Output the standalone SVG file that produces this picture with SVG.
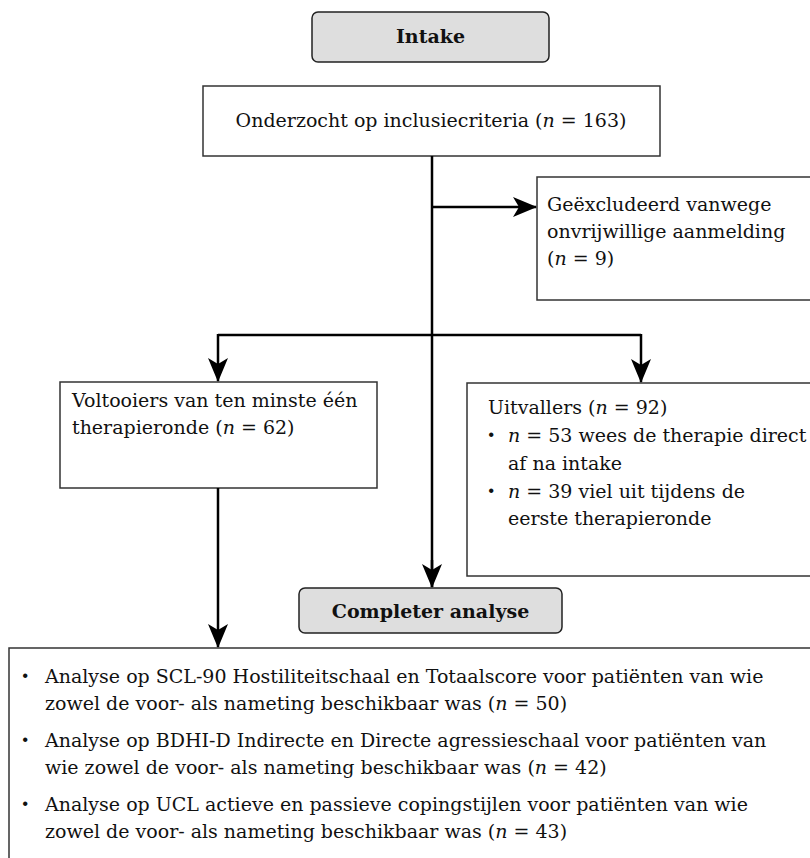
<svg xmlns="http://www.w3.org/2000/svg" width="810" height="858" viewBox="0 0 810 858">
<style>
text{font-family:"DejaVu Serif","Liberation Serif",serif;font-size:19px;fill:#111}
.b{font-weight:bold;font-size:19px}
.i{font-style:italic}
.d{font-weight:bold;font-size:24px}
.box{fill:#fff;stroke:#333;stroke-width:1.5}
.term{fill:#dedede;stroke:#222;stroke-width:1.5}
.c{fill:none;stroke:#000;stroke-width:2.5}
</style>
<defs>
<marker id="ah" markerUnits="userSpaceOnUse" markerWidth="30" markerHeight="24" viewBox="-25 -12 27 24" refX="0" refY="0" orient="auto">
<path d="M1,0 L-23,-10 L-17,0 L-23,10 Z" fill="#000"/>
</marker>
</defs>
<g id="intake">
<rect class="term" x="312" y="12" width="237" height="50" rx="6"/>
<text class="b" x="430.5" y="43" text-anchor="middle">Intake</text>
</g>
<g id="onderzocht">
<rect class="box" x="203" y="86" width="457" height="70"/>
<text x="431" y="127" text-anchor="middle">Onderzocht op inclusiecriteria (<tspan class="i">n</tspan> = 163)</text>
</g>
<g id="excluded">
<rect class="box" x="537" y="177" width="290" height="123"/>
<text x="547" y="211">Geëxcludeerd vanwege</text>
<text x="547" y="238">onvrijwillige aanmelding</text>
<text x="547" y="265">(<tspan class="i">n</tspan> = 9)</text>
</g>
<g id="voltooiers">
<rect class="box" x="60" y="382" width="317" height="106"/>
<text x="72" y="407">Voltooiers van ten minste één</text>
<text x="72" y="434">therapieronde (<tspan class="i">n</tspan> = 62)</text>
</g>
<g id="uitvallers">
<rect class="box" x="467" y="383" width="360" height="193"/>
<text x="488" y="414">Uitvallers (<tspan class="i">n</tspan> = 92)</text>
<text class="d" x="487" y="443">·</text>
<text x="508" y="442"><tspan class="i">n</tspan> = 53 wees de therapie direct</text>
<text x="508" y="470">af na intake</text>
<text class="d" x="487" y="499">·</text>
<text x="508" y="498"><tspan class="i">n</tspan> = 39 viel uit tijdens de</text>
<text x="508" y="525">eerste therapieronde</text>
</g>
<g id="completer">
<rect class="term" x="299" y="588" width="263" height="45" rx="6"/>
<text class="b" x="430.5" y="618" text-anchor="middle">Completer analyse</text>
</g>
<g id="analyse">
<rect class="box" x="9" y="648" width="820" height="230"/>
<text class="d" x="21" y="684">·</text>
<text x="45" y="683">Analyse op SCL-90 Hostiliteitschaal en Totaalscore voor patiënten van wie</text>
<text x="45" y="710">zowel de voor- als nameting beschikbaar was (<tspan class="i">n</tspan> = 50)</text>
<text class="d" x="21" y="748">·</text>
<text x="45" y="747">Analyse op BDHI-D Indirecte en Directe agressieschaal voor patiënten van</text>
<text x="45" y="774">wie zowel de voor- als nameting beschikbaar was (<tspan class="i">n</tspan> = 42)</text>
<text class="d" x="21" y="812">·</text>
<text x="45" y="811">Analyse op UCL actieve en passieve copingstijlen voor patiënten van wie</text>
<text x="45" y="838">zowel de voor- als nameting beschikbaar was (<tspan class="i">n</tspan> = 43)</text>
</g>
<g id="connectors">
<path class="c" d="M432,156 V587"/>
<path class="c" d="M432,560 V587" marker-end="url(#ah)"/>
<path class="c" d="M432,207 H536" marker-end="url(#ah)"/>
<path class="c" d="M218,335 H641"/>
<path class="c" d="M218,334 V381" marker-end="url(#ah)"/>
<path class="c" d="M641,334 V382" marker-end="url(#ah)"/>
<path class="c" d="M218,488 V647" marker-end="url(#ah)"/>
</g>
</svg>
